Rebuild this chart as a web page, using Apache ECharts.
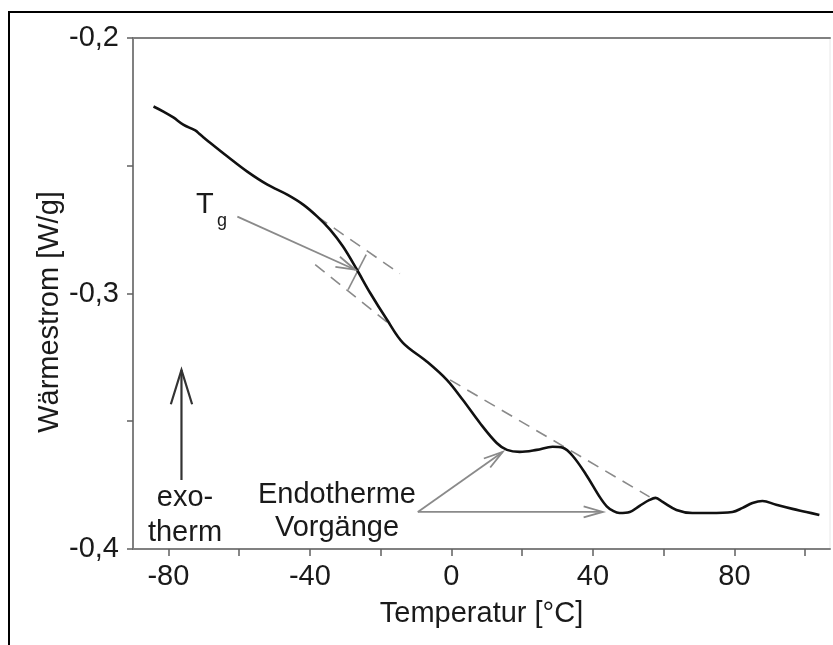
<!DOCTYPE html>
<html>
<head>
<meta charset="utf-8">
<script src="https://cdn.jsdelivr.net/npm/echarts@6/dist/echarts.min.js"></script>
<style>
html,body{margin:0;padding:0;background:#fff;}
#c{width:833px;height:645px;}
</style>
</head>
<body>
<div id="c"></div>
<script>
// ---- data ----
const temperature = [-84.2,-81.4,-78.6,-75.8,-72.4,-71.0,-68.2,-63.3,-57.7,-52.0,-46.4,-41.9,-37.9,-34.3,-30.6,-26.7,-23.0,-18.2,-13.7,-6.9,-1.3,3.2,8.0,12.8,15.7,19.3,24.1,28.6,31.5,34.3,38.2,41.9,43.9,45.6,47.5,50.4,53.2,56.0,57.7,59.7,63.6,68.1,72.9,79.4,82.3,85.1,87.9,91.8,96.4,100.3,104.0];
const heatFlow = [-0.2268,-0.2288,-0.2311,-0.2339,-0.2362,-0.2378,-0.2410,-0.2464,-0.2523,-0.2574,-0.2613,-0.2652,-0.2699,-0.2750,-0.2817,-0.2907,-0.2997,-0.3103,-0.3193,-0.3267,-0.3338,-0.3416,-0.3506,-0.3585,-0.3612,-0.3620,-0.3612,-0.3600,-0.3604,-0.3636,-0.3712,-0.3796,-0.3833,-0.3850,-0.3859,-0.3855,-0.3831,-0.3808,-0.3800,-0.3816,-0.3847,-0.3859,-0.3859,-0.3855,-0.3839,-0.3820,-0.3812,-0.3827,-0.3843,-0.3855,-0.3867];

// tangent / construction lines [x1,y1,x2,y2]
const tgUpperTangent = [-37.9,-0.2699,-14.6,-0.2922];
const tgLowerTangent = [-38.5,-0.2887,-17.5,-0.3120];
const tgConnector = [-24.1,-0.2848,-29.2,-0.2985];
const endoBaseline = [-0.4,-0.3338,56.0,-0.3796];

// arrows [x1,y1,x2,y2]
const arrowTg = [-60.5,-0.2699,-27.2,-0.2907];
const arrowEndo1 = [-9.5,-0.3855,14.5,-0.3620];
const arrowEndo2 = [-9.5,-0.3855,42.8,-0.3855];
const arrowExo = [-76.3,-0.3730,-76.3,-0.3299];

const xLabelValues = [-80,-40,0,40,80];
const xTickValues = [-80,-60,-40,-20,0,20,40,60,80,100];
const yTickLabels = ['-0,4','-0,3','-0,2'];

// ---- chart ----
const FONT = '"Liberation Sans", Arial, sans-serif';
const TXT = '#1a1a1a';
const chart = echarts.init(document.getElementById('c'));
const curve = temperature.map((t,i)=>[t,heatFlow[i]]);
function seg(a){return [[a[0],a[1]],[a[2],a[3]]];}

function arrowItem(params, api){
  const p1 = api.coord([api.value(0), api.value(1)]);
  const p2 = api.coord([api.value(2), api.value(3)]);
  const big = params.dataIndex === 3;
  const len = big ? 36 : 20;
  const spread = big ? 0.3 : 0.28;
  const col = big ? '#333' : '#8a8a8a';
  const lw = big ? 2.2 : 1.8;
  const ang = Math.atan2(p2[1]-p1[1], p2[0]-p1[0]);
  const h1 = [p2[0]-len*Math.cos(ang-spread), p2[1]-len*Math.sin(ang-spread)];
  const h2 = [p2[0]-len*Math.cos(ang+spread), p2[1]-len*Math.sin(ang+spread)];
  const st = {stroke: col, lineWidth: lw, fill: null};
  return {type:'group', children:[
    {type:'line', shape:{x1:p1[0],y1:p1[1],x2:p2[0],y2:p2[1]}, style:st},
    {type:'polyline', shape:{points:[h1,p2,h2]}, style:st}
  ]};
}

const dashStyle = {color:'#8a8a8a', width:1.6, type:[12,8]};

chart.setOption({
  animation:false,
  backgroundColor:'#fff',
  textStyle:{fontFamily:FONT},
  grid:{left:133, top:38, right:3, bottom:96, show:true, borderColor:'#e8e8e8', borderWidth:1},
  xAxis:[{
    type:'value', min:-90, max:107, position:'bottom',
    axisLine:{onZero:false, lineStyle:{color:'#808080', width:2}},
    axisTick:{show:true, length:7, customValues:xTickValues, lineStyle:{color:'#606060', width:1.5}},
    axisLabel:{customValues:xLabelValues, fontSize:29, color:TXT, margin:13, fontFamily:FONT},
    splitLine:{show:false},
    name:'Temperatur [°C]', nameLocation:'middle', nameGap:50,
    nameTextStyle:{fontSize:29, color:TXT, fontFamily:FONT}
  },{
    type:'value', min:-90, max:107, position:'top',
    axisLine:{onZero:false, lineStyle:{color:'#808080', width:2}},
    axisTick:{show:false}, axisLabel:{show:false}, splitLine:{show:false}
  }],
  yAxis:{
    type:'value', min:-0.4, max:-0.2, interval:0.05,
    axisLine:{show:true, onZero:false, lineStyle:{color:'#808080', width:2}},
    axisTick:{show:true, length:6, lineStyle:{color:'#606060', width:1.5}},
    axisLabel:{fontSize:29, color:TXT, margin:14, fontFamily:FONT, padding:[9,0,0,0],
      formatter:function(v){
        const k = Math.round(v*20);
        if (k % 2 !== 0) return '';
        const idx = Math.round((v+0.4)*10);
        return yTickLabels[idx] || '';
      }},
    splitLine:{show:false}
  },
  series:[
    {type:'line', data:seg(tgUpperTangent), symbol:'none', lineStyle:dashStyle, z:2},
    {type:'line', data:seg(tgLowerTangent), symbol:'none', lineStyle:dashStyle, z:2},
    {type:'line', data:seg(endoBaseline), symbol:'none', lineStyle:dashStyle, z:2},
    {type:'line', data:seg(tgConnector), symbol:'none', lineStyle:{color:'#8a8a8a', width:1.6}, z:2},
    {type:'line', data:curve, symbol:'none', smooth:0.35, lineStyle:{color:'#111', width:2.6}, z:3},
    {type:'custom', renderItem:arrowItem, encode:{x:[0,2], y:[1,3]},
     data:[arrowTg, arrowEndo1, arrowEndo2, arrowExo], z:4}
  ],
  graphic:[
    {type:'rect', shape:{x:9, y:12, width:900, height:700}, style:{fill:null, stroke:'#000', lineWidth:2}, silent:true},
    {type:'text', x:50, y:312, rotation:Math.PI/2, style:{text:'Wärmestrom [W/g]', fontSize:29, fill:TXT, fontFamily:FONT, align:'center', verticalAlign:'middle'}},
    {type:'text', x:196, y:190, style:{text:'T', fontSize:29, fill:TXT, fontFamily:FONT}},
    {type:'text', x:217, y:212, style:{text:'g', fontSize:18, fill:TXT, fontFamily:FONT}},
    {type:'text', x:185, y:480, style:{text:'exo-\ntherm', fontSize:29, lineHeight:35, fill:TXT, fontFamily:FONT, align:'center', verticalAlign:'top'}},
    {type:'text', x:337, y:478, style:{text:'Endotherme\nVorgänge', fontSize:29, lineHeight:33, fill:TXT, fontFamily:FONT, align:'center', verticalAlign:'top'}}
  ]
});
</script>
</body>
</html>
